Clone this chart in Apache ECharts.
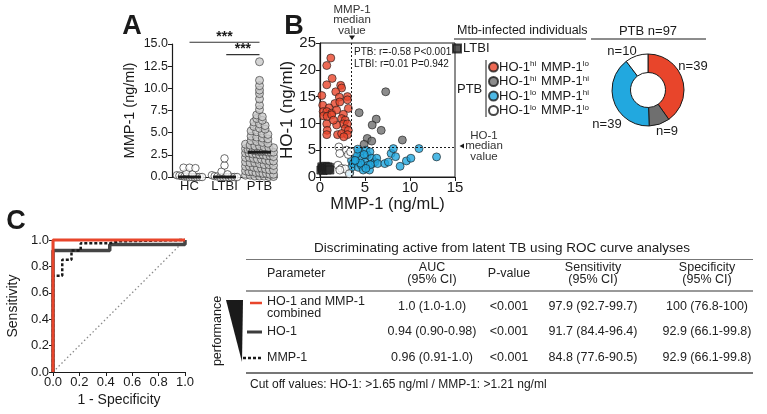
<!DOCTYPE html>
<html>
<head>
<meta charset="utf-8">
<script src="https://cdn.jsdelivr.net/npm/echarts@6.0.0/dist/echarts.min.js"></script>
<style>
  html, body { margin: 0; padding: 0; background: #fff; }
  #chart { width: 767px; height: 414px; }
</style>
</head>
<body>
<div id="chart"></div>
<script>
const FONT = "'Liberation Sans', Arial, Helvetica, sans-serif";
const INK = "#1a1a1a";

// ---- panel A: serum MMP-1 by group ----
const groupNames = ["HC", "LTBI", "PTB"];
const hcValues = [1.05, 1.05, 1.0, 0.5, 0.3, 0.2, 0.15, 0.1, 0.05, 0.05, 0, 0, 0, 0, 0, 0];
const ltbiValues = [2.1, 1.3, 0.6, 0.3, 0.2, 0.1, 0.05, 0, 0, 0, 0, 0, 0, 0];
const ptbValues = [
  13.0, 10.9, 10.3, 9.8, 9.4, 8.8, 8.1, 7.6, 7.0, 6.8, 6.6, 6.4, 6.2, 6.0, 5.8, 5.7,
  5.5, 5.4, 5.2, 5.1, 4.9, 4.8, 4.6, 4.5, 4.4, 4.3, 4.1, 4.0, 3.9, 3.8, 3.7, 3.6,
  3.5, 3.5, 3.4, 3.3, 3.3, 3.2, 3.1, 3.1, 3.0, 3.0, 2.9, 2.9, 2.9, 2.9, 2.8, 2.8,
  2.8,
  2.7, 2.7, 2.6, 2.6, 2.5, 2.5, 2.4, 2.4, 2.3, 2.2, 2.2, 2.1, 2.0, 2.0, 1.9, 1.8,
  1.8, 1.7, 1.6, 1.6, 1.5, 1.4, 1.4, 1.3, 1.2, 1.2, 1.1, 1.0, 1.0, 0.9, 0.8, 0.8,
  0.7, 0.6, 0.6, 0.5, 0.5, 0.4, 0.4, 0.3, 0.3, 0.2, 0.2, 0.1, 0.1, 0.1, 0.05, 0.05
];
const groupMedians = [0, 0, 2.8];
// [from, to, level] on the group axis (group centres at 0.5, 1.5, 2.5)
const sigBrackets = [[0.5, 2.5, 15.2], [1.55, 2.5, 13.8]];
const sigLabels = ["***", "***"];

// ---- panel B: HO-1 vs MMP-1 ----
const ltbiPoints = [
  [0.1, 1.3], [0.2, 1.9], [0.25, 1.6], [0.3, 1.5], [0.35, 1.2], [0.45, 1.8], [0.55, 1.4],
  [0.6, 2.0], [0.7, 1.6], [0.8, 1.3], [0.85, 1.9], [0.95, 1.5], [1.05, 1.8], [1.1, 1.3]
];
const hiLoPoints = [
  [1.2, 22.2], [0.75, 20.8], [1.35, 18.4], [0.75, 17.2], [2.3, 17.1], [2.4, 16.6], [1.75, 15.9],
  [0.2, 15.2], [2.15, 14.9], [3.05, 15.0], [3.05, 14.4], [0.3, 13.4], [1.65, 13.7], [2.2, 14.0],
  [1.0, 12.9], [3.15, 12.8], [0.35, 12.2], [0.75, 12.2], [1.3, 11.9], [1.85, 12.5], [0.4, 11.4],
  [0.8, 11.3], [1.3, 11.6], [2.6, 11.7], [2.4, 10.9], [2.8, 10.6], [0.75, 9.9], [2.6, 9.9],
  [3.05, 9.9], [1.85, 9.7], [0.8, 8.7], [2.8, 9.0], [3.15, 8.7], [0.75, 7.9], [1.95, 7.9],
  [2.4, 8.1], [3.05, 7.9], [2.65, 7.5], [1.5, 10.6]
];
const hiHiPoints = [
  [7.3, 15.9], [4.35, 12.0], [6.25, 10.8], [5.8, 9.7], [6.8, 8.7], [5.25, 7.2], [5.75, 6.7],
  [9.15, 6.9], [4.9, 6.1]
];
const loHiPoints = [
  [3.3, 0.8], [3.5, 1.8], [3.5, 3.1], [3.7, 2.5], [3.9, 3.7], [4.05, 2.9], [4.25, 1.8], [4.45, 4.7],
  [4.6, 3.5], [4.6, 2.2], [4.8, 1.3], [5.0, 2.8], [5.1, 5.0], [5.25, 4.1], [5.35, 2.2], [5.5, 1.3],
  [5.55, 4.7], [5.75, 3.5], [5.85, 2.5], [6.1, 2.8], [6.3, 3.5], [6.4, 2.5], [7.2, 2.5], [7.6, 2.8],
  [7.9, 4.4], [8.15, 5.3], [8.4, 3.8], [8.9, 2.0], [9.6, 3.0], [10.1, 3.5], [11.0, 5.3], [12.95, 3.75],
  [4.05, 4.3], [4.9, 4.2], [4.5, 2.6], [3.9, 3.1], [5.6, 2.3], [5.1, 1.6], [4.2, 5.2]
];
const loLoPoints = [
  [2.1, 5.6], [2.2, 4.4], [2.95, 5.0], [3.15, 4.2], [3.4, 4.7], [2.0, 2.2], [2.4, 1.6], [2.8, 1.5],
  [2.2, 1.3], [3.25, 0.6]
];
const mmp1Median = 3.5;
const ho1Median = 5.6;
const ptbGroups = ["HO-1hi MMP-1lo", "HO-1hi MMP-1hi", "HO-1lo MMP-1hi", "HO-1lo MMP-1lo"];
const ptbCounts = [39, 9, 39, 10];
const groupColors = ["#e8452b", "#6f6f6f", "#22a8df", "#ffffff"];

// ---- panel C: ROC curves ----
const rocCombined = [[0, 0], [0, 1], [1, 1]];
const rocHO1 = [[0, 0], [0, 0.92], [0.43, 0.92], [0.43, 0.965], [1, 0.965], [1, 1]];
const rocMMP1 = [
  [0, 0], [0, 0.73], [0.07, 0.73], [0.07, 0.85], [0.14, 0.85], [0.14, 0.92], [0.21, 0.92],
  [0.21, 0.975], [0.43, 0.975], [0.43, 0.99], [0.5, 0.99], [0.5, 1], [1, 1]
];
const rocDiagonal = [[0, 0], [1, 1]];

const tableTitle = "Discriminating active from latent TB using ROC curve analyses";
const tableHeaders = ["Parameter", "AUC\n(95% CI)", "P-value", "Sensitivity\n(95% CI)", "Specificity\n(95% CI)"];
const tableRows = [
  ["HO-1 and MMP-1\ncombined", "1.0 (1.0-1.0)", "<0.001", "97.9 (92.7-99.7)", "100 (76.8-100)"],
  ["HO-1", "0.94 (0.90-0.98)", "<0.001", "91.7 (84.4-96.4)", "92.9 (66.1-99.8)"],
  ["MMP-1", "0.96 (0.91-1.0)", "<0.001", "84.8 (77.6-90.5)", "92.9 (66.1-99.8)"]
];
const tableNote = "Cut off values: HO-1: >1.65 ng/ml / MMP-1: >1.21 ng/ml";

// spread points of one group sideways, GraphPad style
function swarm(values, center, binSize, step, maxHalf) {
  const bins = {};
  values.forEach((v) => {
    const b = Math.round(v / binSize);
    (bins[b] = bins[b] || []).push(v);
  });
  const out = [];
  Object.values(bins).forEach((list) => {
    const n = list.length;
    const s = n > 1 ? Math.min(step, (2 * maxHalf) / (n - 1)) : 0;
    list.forEach((v, i) => out.push([center + (i - (n - 1) / 2) * s, v]));
  });
  return out;
}

function richName(name) {
  return "{n|" + name.replace(/-1(hi|lo)/g, "-1}{s|$1}{n|") + "}";
}

const txt = (text, x, y, extra, el) => Object.assign({
  type: "text", x, y, silent: true,
  style: Object.assign({ text, fill: INK, font: "12px " + FONT, align: "left", verticalAlign: "middle" }, extra || {})
}, el || {});
const hline = (x1, x2, y, stroke, w) => ({
  type: "line", silent: true, shape: { x1, y1: y, x2, y2: y }, style: { stroke, lineWidth: w }
});

const chart = echarts.init(document.getElementById("chart"));

const axisBase = {
  axisLine: { lineStyle: { color: INK, width: 1.2 } },
  axisTick: { lineStyle: { color: INK }, length: 4 },
  splitLine: { show: false },
  nameTextStyle: { color: INK, fontFamily: FONT },
};

const colX = [267, 432, 509, 593, 707];
const rowY = [307, 332, 358];
// where the donut counts sit, as in the figure
const donutLabelPos = [[693, 66], [667, 131], [607, 124], [622, 51]];

const graphics = [
  txt("A", 132, 27, { font: "bold 27px " + FONT, align: "center" }),
  txt("B", 294, 27, { font: "bold 27px " + FONT, align: "center" }),
  txt("C", 16, 222, { font: "bold 27px " + FONT, align: "center" }),
  // median annotations of panel B
  txt("MMP-1\nmedian\nvalue", 352, 20, { font: "11.5px " + FONT, align: "center", lineHeight: 10.5, fill: "#333" }),
  { type: "polygon", silent: true, shape: { points: [[349, 35.5], [355, 35.5], [352, 40]] }, style: { fill: INK } },
  txt("HO-1\nmedian\nvalue", 484, 146, { font: "11.5px " + FONT, align: "center", lineHeight: 10.5, fill: "#333" }),
  { type: "polygon", silent: true, shape: { points: [[459.5, 146], [464, 143.5], [464, 148.5]] }, style: { fill: INK } },
  txt("PTB: r=-0.58 P<0.001", 354, 52, { font: "10px " + FONT }),
  txt("LTBI: r=0.01 P=0.942", 354, 64, { font: "10px " + FONT }),
  // legend block headings
  txt("Mtb-infected individuals", 457, 31, { font: "12.5px " + FONT }),
  hline(454, 586, 39, INK, 1),
  txt("PTB", 457, 89, { font: "13px " + FONT }),
  { type: "line", silent: true, shape: { x1: 486, y1: 60, x2: 486, y2: 117 }, style: { stroke: INK, lineWidth: 1 } },
  txt("PTB n=97", 648, 31, { font: "13px " + FONT, align: "center" }),
  hline(591, 706, 39, INK, 1),
  // table
  txt(tableTitle, 502, 248, { font: "13.5px " + FONT, align: "center" }),
  hline(246, 753, 259.5, "#777", 1.2),
  hline(246, 753, 291, "#777", 1.5),
  hline(246, 753, 373, "#777", 1.8),
  txt(tableNote, 250, 385, { font: "12px " + FONT }),
  { type: "polygon", silent: true, shape: { points: [[226, 300], [243, 300], [242, 362]] }, style: { fill: INK } },
  txt("performance", 218, 331, { font: "12.5px " + FONT, align: "center" }, { rotation: Math.PI / 2 }),
  hline(250, 262, 303, groupColors[0], 2.5),
  hline(247, 262, 332, "#3c3c3c", 3),
  { type: "line", silent: true, shape: { x1: 243, y1: 358, x2: 262, y2: 358 }, style: { stroke: INK, lineWidth: 2.5, lineDash: [3, 2] } },
];
tableHeaders.forEach((h, i) => {
  graphics.push(txt(h, colX[i], 274, { font: "12.5px " + FONT, align: i === 0 ? "left" : "center", lineHeight: 12, fill: "#222" }));
});
tableRows.forEach((row, r) => {
  row.forEach((cell, i) => {
    graphics.push(txt(cell, colX[i], i === 0 && r === 0 ? rowY[r] + 1 : rowY[r],
      { font: "12.5px " + FONT, align: i === 0 ? "left" : "center", lineHeight: 12, fill: "#222" }));
  });
});

const scatterB = (name, data, color, symbol, size) => ({
  name, type: "scatter", xAxisIndex: 2, yAxisIndex: 1, data, symbol: symbol || "circle",
  symbolSize: size || 8, silent: true,
  itemStyle: { color, borderColor: INK, borderWidth: 0.8 },
});

chart.setOption({
  animation: false,
  backgroundColor: "#fff",
  textStyle: { fontFamily: FONT, color: INK },
  grid: [
    { left: 172, top: 44, width: 105, height: 133 },
    { left: 320, top: 43, width: 135, height: 134, show: true, borderColor: INK, borderWidth: 1 },
    { left: 53, top: 240, width: 132, height: 132 },
  ],
  xAxis: [
    Object.assign({}, axisBase, {
      gridIndex: 0, type: "category", data: groupNames,
      axisTick: { show: false },
      axisLabel: { color: INK, fontSize: 13, margin: 3, interval: 0, fontFamily: FONT },
    }),
    { gridIndex: 0, type: "value", min: 0, max: 3, show: false },
    Object.assign({}, axisBase, {
      gridIndex: 1, type: "value", min: 0, max: 15, interval: 5,
      name: "MMP-1 (ng/mL)", nameLocation: "middle", nameGap: 16,
      nameTextStyle: { color: INK, fontSize: 16.5, fontFamily: FONT },
      axisLabel: { color: INK, fontSize: 15, margin: 3, fontFamily: FONT },
    }),
    Object.assign({}, axisBase, {
      gridIndex: 2, type: "value", min: 0, max: 1, interval: 0.2,
      name: "1 - Specificity", nameLocation: "middle", nameGap: 21,
      nameTextStyle: { color: INK, fontSize: 14, fontFamily: FONT },
      axisLabel: { color: INK, fontSize: 13, margin: 4, fontFamily: FONT, formatter: (v) => v.toFixed(1) },
    }),
  ],
  yAxis: [
    Object.assign({}, axisBase, {
      gridIndex: 0, type: "value", min: 0, max: 15, interval: 2.5,
      name: "MMP-1 (ng/ml)", nameLocation: "middle", nameGap: 35,
      nameTextStyle: { color: INK, fontSize: 14.5, fontFamily: FONT },
      axisLabel: { color: INK, fontSize: 12.5, margin: 4, fontFamily: FONT, formatter: (v) => v.toFixed(1) },
    }),
    Object.assign({}, axisBase, {
      gridIndex: 1, type: "value", min: 0, max: 25, interval: 5,
      name: "HO-1 (ng/ml)", nameLocation: "middle", nameGap: 24,
      nameTextStyle: { color: INK, fontSize: 17, fontFamily: FONT },
      axisLabel: { color: INK, fontSize: 15, margin: 4, fontFamily: FONT },
    }),
    Object.assign({}, axisBase, {
      gridIndex: 2, type: "value", min: 0, max: 1, interval: 0.2,
      name: "Sensitivity", nameLocation: "middle", nameGap: 33,
      nameTextStyle: { color: INK, fontSize: 14, fontFamily: FONT },
      axisLabel: { color: INK, fontSize: 13, margin: 4, fontFamily: FONT, formatter: (v) => v.toFixed(1) },
    }),
  ],
  legend: [
    {
      data: ["LTBI"], left: 452, top: 42, icon: "rect", itemWidth: 8, itemHeight: 8,
      selectedMode: false, padding: 0,
      textStyle: { fontSize: 13, color: INK, fontFamily: FONT, padding: [0, 0, 0, -3] },
    },
    {
      data: ptbGroups, left: 488, top: 60, orient: "vertical", icon: "circle",
      itemWidth: 9, itemHeight: 9, itemGap: 1, selectedMode: false, padding: 0,
      formatter: richName,
      textStyle: {
        color: INK, fontFamily: FONT, padding: [0, 0, 0, -4],
        rich: {
          n: { fontSize: 13, lineHeight: 14, color: INK, fontFamily: FONT },
          s: { fontSize: 8, lineHeight: 9, verticalAlign: "top", color: INK, fontFamily: FONT, padding: [0, 1, 0, 0] },
        },
      },
    },
  ],
  graphic: graphics,
  series: [
    // panel A
    {
      name: "HC", type: "scatter", xAxisIndex: 1, yAxisIndex: 0, silent: true, symbolSize: 7.5,
      data: swarm(hcValues, 0.5, 0.5, 0.17, 0.36),
      itemStyle: { color: "#fff", borderColor: INK, borderWidth: 0.8 },
    },
    {
      name: "LTBI-A", type: "scatter", xAxisIndex: 1, yAxisIndex: 0, silent: true, symbolSize: 7.5,
      data: swarm(ltbiValues, 1.5, 0.5, 0.17, 0.36),
      itemStyle: { color: "#fff", borderColor: INK, borderWidth: 0.8 },
    },
    {
      name: "PTB-A", type: "scatter", xAxisIndex: 1, yAxisIndex: 0, silent: true, symbolSize: 8,
      data: swarm(ptbValues, 2.5, 0.5, 0.16, 0.4),
      itemStyle: { color: "#c9c9c9", borderColor: "#333", borderWidth: 0.8 },
    },
    {
      type: "custom", xAxisIndex: 1, yAxisIndex: 0, silent: true, z: 5,
      data: groupMedians.map((m, i) => [i + 0.5, m]),
      renderItem: (params, api) => {
        const p1 = api.coord([api.value(0) - 0.33, api.value(1)]);
        const p2 = api.coord([api.value(0) + 0.33, api.value(1)]);
        return { type: "line", shape: { x1: p1[0], y1: p1[1], x2: p2[0], y2: p2[1] }, style: { stroke: INK, lineWidth: 3 } };
      },
    },
    {
      type: "custom", xAxisIndex: 1, yAxisIndex: 0, silent: true, clip: false,
      data: sigBrackets,
      renderItem: (params, api) => {
        const p1 = api.coord([api.value(0), api.value(2)]);
        const p2 = api.coord([api.value(1), api.value(2)]);
        return {
          type: "group",
          children: [
            { type: "line", shape: { x1: p1[0], y1: p1[1], x2: p2[0], y2: p2[1] }, style: { stroke: "#333", lineWidth: 1.2 } },
            {
              type: "text", x: (p1[0] + p2[0]) / 2, y: p1[1] - 5,
              style: { text: sigLabels[params.dataIndex], align: "center", verticalAlign: "middle", font: "bold 14px " + FONT, fill: INK },
            },
          ],
        };
      },
    },
    // panel B
    Object.assign(scatterB("LTBI", ltbiPoints, "#2e2e2e", "rect", 8), {
      markLine: {
        silent: true, symbol: "none", label: { show: false },
        lineStyle: { color: INK, type: [2, 2], width: 1 },
        data: [{ xAxis: mmp1Median }, { yAxis: ho1Median }],
      },
    }),
    scatterB(ptbGroups[0], hiLoPoints, groupColors[0]),
    scatterB(ptbGroups[1], hiHiPoints, groupColors[1]),
    scatterB(ptbGroups[2], loHiPoints, groupColors[2]),
    scatterB(ptbGroups[3], loLoPoints, groupColors[3]),
    // donut
    {
      type: "pie", center: [648, 90], radius: [17.5, 36], startAngle: 90, clockwise: true,
      silent: true, avoidLabelOverlap: false,
      itemStyle: { borderColor: INK, borderWidth: 1 },
      label: { show: true, position: "outside", formatter: "n={c}", fontSize: 13, color: INK, fontFamily: FONT },
      labelLine: { show: false, length: 4, length2: 0 },
      labelLayout: (p) => ({
        x: donutLabelPos[p.dataIndex][0], y: donutLabelPos[p.dataIndex][1],
        align: "center", verticalAlign: "middle",
      }),
      data: ptbGroups.map((g, i) => ({ name: g, value: ptbCounts[i], itemStyle: { color: groupColors[i] } })),
    },
    // panel C
    {
      type: "line", xAxisIndex: 3, yAxisIndex: 2, data: rocDiagonal, silent: true, symbol: "none",
      lineStyle: { color: "#8a8a8a", width: 1.3, type: [1.5, 2.5] },
    },
    {
      type: "line", xAxisIndex: 3, yAxisIndex: 2, data: rocHO1, silent: true, symbol: "none", clip: false,
      lineStyle: { color: "#454545", width: 3.5 },
    },
    {
      type: "line", xAxisIndex: 3, yAxisIndex: 2, data: rocMMP1, silent: true, symbol: "none", clip: false,
      lineStyle: { color: INK, width: 2.5, type: [3, 2] },
    },
    {
      type: "line", xAxisIndex: 3, yAxisIndex: 2, data: rocCombined, silent: true, symbol: "none", clip: false,
      lineStyle: { color: groupColors[0], width: 3 },
    },
  ],
});
</script>
</body>
</html>
